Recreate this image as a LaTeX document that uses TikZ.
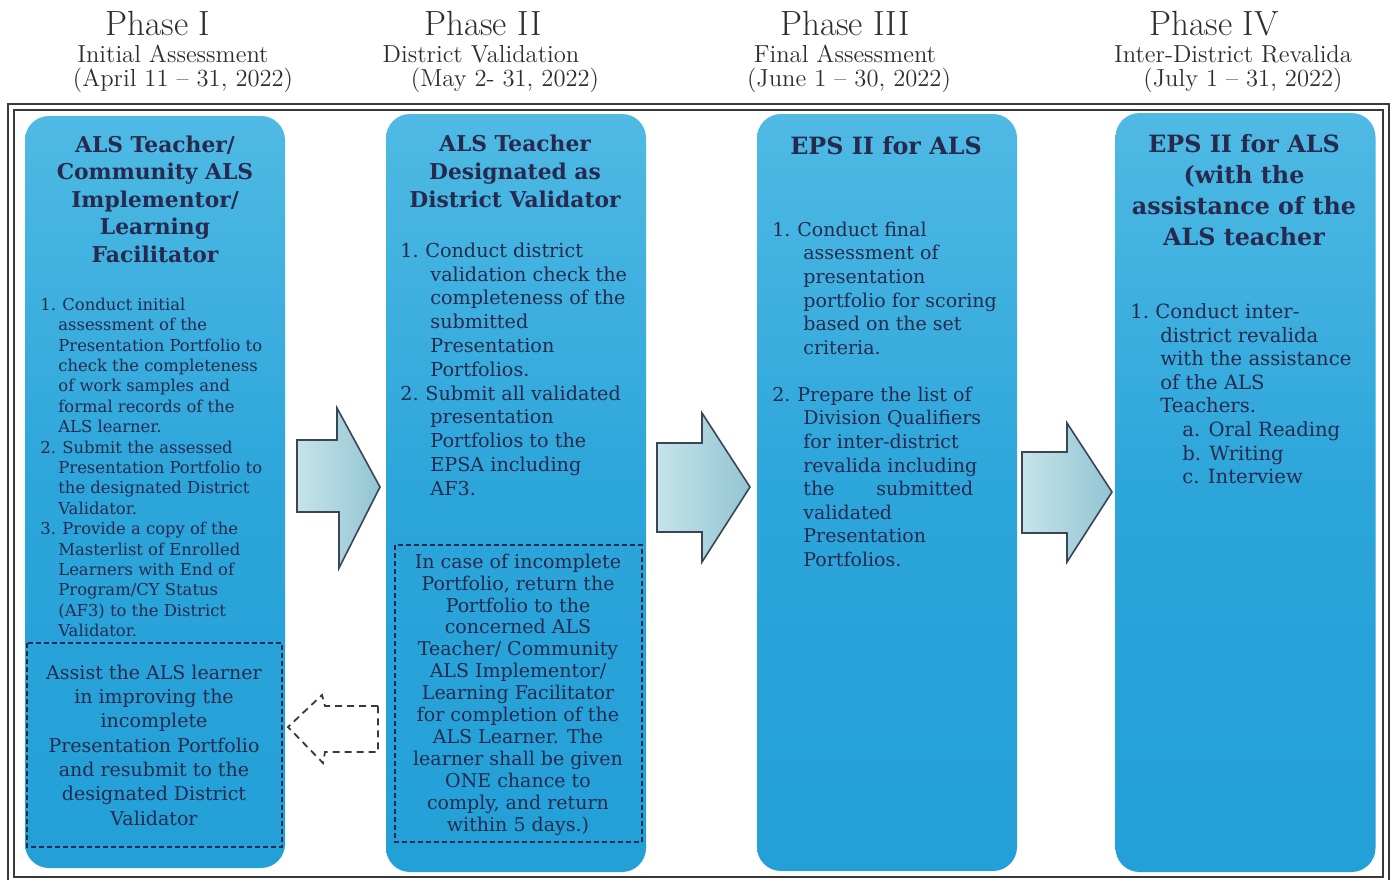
\documentclass[tikz,border=0pt]{standalone}
\usepackage{fontspec}
\newfontfamily\bk{DejaVu Serif}
\definecolor{colA}{HTML}{4FBAE4}
\definecolor{colB}{HTML}{2CA5DA}
\definecolor{colC}{HTML}{22A0D7}
\definecolor{ink}{HTML}{272A4E}
\definecolor{arrA}{HTML}{C6E3EA}
\definecolor{arrB}{HTML}{92C5D3}
\definecolor{arrL}{HTML}{3A4556}
\definecolor{framec}{HTML}{3A3A3A}
\definecolor{headc}{HTML}{2E2E2E}
\newcommand\itm[2]{\makebox[#1][l]{#2}}
\newcommand\ind[1]{\hspace*{#1}}
\begin{document}
\begin{tikzpicture}[x=0.5pt,y=-0.5pt,
  colbox/.style={rectangle, rounded corners=12pt, top color=colA, bottom color=colC, middle color=colB, minimum width=130pt, inner sep=0pt, draw=none},
  dashbox/.style={draw=ink, line width=0.6pt, dash pattern=on 2.5pt off 1.5pt},
  blockarrow/.style={draw=arrL, line width=0.8pt, left color=arrA, right color=arrB, line join=miter},
  backarrow/.style={draw=framec, line width=0.9pt, dash pattern=on 3.5pt off 2.5pt, fill=white},
  phase/.style={font=\fontsize{17.5}{20}\selectfont, text=headc, anchor=base, inner sep=0pt},
  sub/.style={font=\fontsize{12.3}{14}\selectfont, text=headc, anchor=base, inner sep=0pt},
  ttl/.style={text=ink, align=center, anchor=north, inner sep=0pt},
  body/.style={text=ink, align=left, anchor=north west, inner sep=0pt},
  note/.style={text=ink, align=center, anchor=north, inner sep=0pt}]
\useasboundingbox (0,0) rectangle (1392,879);
\fill[white] (0,0) rectangle (1392,879);

% headers
\node[phase] (p1) at (158,35) {Phase I};
\node[sub] (p1a) at (173,62) {Initial Assessment};
\node[sub] (p1b) at (183,86) {(April 11 -- 31, 2022)};
\node[phase] (p2) at (483,35) {Phase II};
\node[sub] (p2a) at (481,62) {District Validation};
\node[sub] (p2b) at (505,86) {(May 2- 31, 2022)};
\node[phase] (p3) at (845,35) {Phase III};
\node[sub] (p3a) at (845,62) {Final Assessment};
\node[sub] (p3b) at (849,86) {(June 1 -- 30, 2022)};
\node[phase] (p4) at (1214,35) {Phase IV};
\node[sub] (p4a) at (1233,62) {Inter-District Revalida};
\node[sub] (p4b) at (1243,86) {(July 1 -- 31, 2022)};

% frame
\draw[framec, line width=1.4pt] (8,104) rectangle (1389,884);
\draw[framec, line width=0.8pt] (14,110) rectangle (1383,877);

% columns
\node[colbox, minimum height=376pt] (c1) at (155,492) {};
\node[colbox, minimum height=379pt] (c2) at (516,493) {};
\node[colbox, minimum height=378.5pt] (c3) at (887,492.5) {};
\node[colbox, minimum height=379.5pt] (c4) at (1245.5,492.5) {};

% block arrows
\draw[blockarrow] (297,440) -- (337,440) -- (337,408) -- (380,487) -- (339,568) -- (339,512) -- (297,512) -- cycle;
\draw[blockarrow] (657,443) -- (702,443) -- (702,413) -- (750,487) -- (702,562) -- (702,532) -- (657,532) -- cycle;
\draw[blockarrow] (1022,452) -- (1067,452) -- (1067,423) -- (1112,492) -- (1067,562) -- (1067,533) -- (1022,533) -- cycle;

% dashed back arrow
\draw[backarrow] (378,706) -- (325,706) -- (322,695) -- (288,727) -- (323,763) -- (325,752) -- (378,752) -- cycle;

% dashed boxes
\draw[dashbox] (27,643) rectangle (282,847);
\draw[dashbox] (395,545) rectangle (642,842);

% column 1
\node[ttl, font=\bk\bfseries\fontsize{10.9}{13.75}\selectfont] (t1) at (155,135.3) {ALS Teacher/\\Community ALS\\Implementor/\\Learning\\Facilitator};
\node[body, font=\bk\fontsize{8.2}{10.2}\selectfont] (b1) at (40,297.4) {%
\itm{11pt}{1.}Conduct initial\\
\ind{9pt}assessment of the\\
\ind{9pt}Presentation Portfolio to\\
\ind{9pt}check the completeness\\
\ind{9pt}of work samples and\\
\ind{9pt}formal records of the\\
\ind{9pt}ALS learner.\\
\itm{11pt}{2.}Submit the assessed\\
\ind{9pt}Presentation Portfolio to\\
\ind{9pt}the designated District\\
\ind{9pt}Validator.\\
\itm{11pt}{3.}Provide a copy of the\\
\ind{9pt}Masterlist of Enrolled\\
\ind{9pt}Learners with End of\\
\ind{9pt}Program/CY Status\\
\ind{9pt}(AF3) to the District\\
\ind{9pt}Validator.};
\node[note, font=\bk\fontsize{9.5}{12.15}\selectfont] (d1) at (154,664.4) {Assist the ALS learner\\in improving the\\incomplete\\Presentation Portfolio\\and resubmit to the\\designated District\\Validator};

% column 2
\node[ttl, font=\bk\bfseries\fontsize{10.9}{14}\selectfont] (t2) at (515,134.3) {ALS Teacher\\Designated as\\District Validator};
\node[body, font=\bk\fontsize{9.6}{11.9}\selectfont] (b2) at (400,242.3) {%
\itm{12.5pt}{1.}Conduct district\\
\ind{15pt}validation check the\\
\ind{15pt}completeness of the\\
\ind{15pt}submitted\\
\ind{15pt}Presentation\\
\ind{15pt}Portfolios.\\
\itm{12.5pt}{2.}Submit all validated\\
\ind{15pt}presentation\\
\ind{15pt}Portfolios to the\\
\ind{15pt}EPSA including\\
\ind{15pt}AF3.};
\node[note, font=\bk\fontsize{9.5}{10.95}\selectfont] (d2) at (518,553.4) {In case of incomplete\\Portfolio, return the\\Portfolio to the\\concerned ALS\\Teacher/ Community\\ALS Implementor/\\Learning Facilitator\\for completion of the\\ALS Learner. The\\learner shall be given\\ONE chance to\\comply, and return\\within 5 days.)};

% column 3
\node[ttl, font=\bk\bfseries\fontsize{11.9}{14}\selectfont] (t3) at (886,136.5) {EPS II for ALS};
\node[body, font=\bk\fontsize{9.5}{11.8}\selectfont] (b3a) at (772,221.4) {%
\itm{12.5pt}{1.}Conduct final\\
\ind{15.5pt}assessment of\\
\ind{15.5pt}presentation\\
\ind{15.5pt}portfolio for scoring\\
\ind{15.5pt}based on the set\\
\ind{15.5pt}criteria.};
\node[body, font=\bk\fontsize{9.5}{11.8}\selectfont] (b3b) at (772,386.4) {%
\itm{12.5pt}{2.}Prepare the list of\\
\ind{15.5pt}Division Qualifiers\\
\ind{15.5pt}for inter-district\\
\ind{15.5pt}revalida including\\
\ind{15.5pt}\makebox[85pt][l]{the\hfill submitted}\\
\ind{15.5pt}validated\\
\ind{15.5pt}Presentation\\
\ind{15.5pt}Portfolios.};

% column 4
\node[ttl, font=\bk\bfseries\fontsize{11.9}{15.5}\selectfont] (t4) at (1244,134.5) {EPS II for ALS\\(with the\\assistance of the\\ALS teacher};
\node[body, font=\bk\fontsize{9.8}{11.8}\selectfont] (b4) at (1130,303.2) {%
\itm{12.5pt}{1.}Conduct inter-\\
\ind{15pt}district revalida\\
\ind{15pt}with the assistance\\
\ind{15pt}of the ALS\\
\ind{15pt}Teachers.\\
\ind{26pt}a. Oral Reading\\
\ind{26pt}b. Writing\\
\ind{26pt}c. Interview};
\end{tikzpicture}
\end{document}
